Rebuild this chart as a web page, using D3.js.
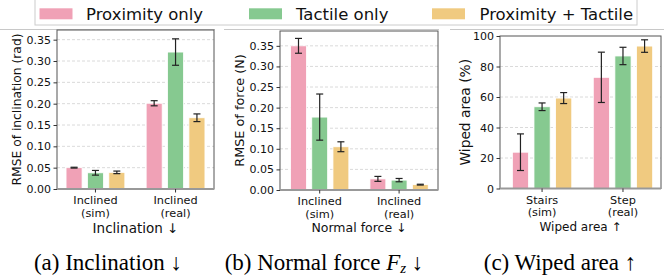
<!DOCTYPE html>
<html>
<head>
<meta charset="utf-8">
<script src="https://cdn.jsdelivr.net/npm/d3@7"></script>
<style>
  body { margin: 0; background: #fff; }
  svg { display: block; font-family: "DejaVu Sans", sans-serif; }
</style>
</head>
<body>
<svg id="chart" width="664" height="278"></svg>
<script>
// series + colours
var seriesNames = ["Proximity only", "Tactile only", "Proximity + Tactile"];
var seriesColors = ["#f0a1b6", "#86c990", "#f0ca80"];

// (a) inclination
var incCats = [["Inclined", "(sim)"], ["Inclined", "(real)"]];
var incMean = [[0.050, 0.038, 0.039], [0.201, 0.321, 0.167]];
var incErr = [[0.001, 0.0055, 0.003], [0.006, 0.031, 0.009]];
var incTicks = [0, 0.05, 0.10, 0.15, 0.20, 0.25, 0.30, 0.35];

// (b) normal force
var forceCats = [["Inclined", "(sim)"], ["Inclined", "(real)"]];
var forceMean = [[0.350, 0.177, 0.105], [0.027, 0.024, 0.013]];
var forceErr = [[0.018, 0.056, 0.012], [0.006, 0.004, 0.001]];
var forceTicks = [0, 0.05, 0.10, 0.15, 0.20, 0.25, 0.30, 0.35];

// (c) wiped area
var wipeCats = [["Stairs", "(sim)"], ["Step", "(real)"]];
var wipeMean = [[23.8, 53.6, 59.3], [72.9, 86.9, 93.4]];
var wipeErr = [[12.0, 2.5, 3.6], [16.5, 5.7, 4.1]];
var wipeTicks = [0, 20, 40, 60, 80, 100];

var svg = d3.select("#chart");

var panels = [
  { cats: incCats, mean: incMean, err: incErr, ticks: incTicks, fmt: d3.format(".2f"),
    ymax: 0.3727, xdom: [-0.48, 1.48], left: 57, right: 214, top: 30, bottom: 189,
    ylabel: "RMSE of inclination (rad)", ylx: 17, ylsize: 12.3,
    xlabel: "Inclination  \u2193", xlsize: 13.5, xly: 233,
    capx: 108 },
  { cats: forceCats, mean: forceMean, err: forceErr, ticks: forceTicks, fmt: d3.format(".2f"),
    ymax: 0.386, xdom: [-0.5, 1.49], left: 280, right: 438, top: 31, bottom: 190,
    ylabel: "RMSE of force (N)", ylx: 240, ylsize: 12.8,
    xlabel: "Normal force  \u2193", xlsize: 12.5, xly: 232,
    capx: 324 },
  { cats: wipeCats, mean: wipeMean, err: wipeErr, ticks: wipeTicks, fmt: d3.format("d"),
    ymax: 100, xdom: [-0.52, 1.47], left: 500, right: 661, top: 36, bottom: 188.5,
    ylabel: "Wiped area (%)", ylx: 465, ylsize: 13.8,
    xlabel: "Wiped area  \u2191", xlsize: 12, xly: 231,
    capx: 560 }
];

var barOff = 0.267, barW = 0.2;

// subfigure top edges
[[0, 215], [224, 439], [450, 664]].forEach(function (s) {
  svg.append("line").attr("x1", s[0]).attr("x2", s[1]).attr("y1", 29.5).attr("y2", 29.5)
    .attr("stroke", "#c8c8c8").attr("stroke-width", 1);
});

panels.forEach(function (p) {
  var x = d3.scaleLinear().domain(p.xdom).range([p.left, p.right]);
  var y = d3.scaleLinear().domain([0, p.ymax]).range([p.bottom, p.top]);
  var g = svg.append("g");

  // grid
  g.selectAll(".grid").data(p.ticks.filter(function (t) { return t > 0 && y(t) > p.top + 1; }))
    .enter().append("line")
    .attr("x1", p.left).attr("x2", p.right)
    .attr("y1", function (d) { return y(d); }).attr("y2", function (d) { return y(d); })
    .attr("stroke", "#d0d0d0").attr("stroke-width", 0.8).attr("stroke-dasharray", "3,2");

  // bars
  var rows = [];
  p.mean.forEach(function (grp, gi) {
    grp.forEach(function (v, si) {
      rows.push({ g: gi, s: si, v: v, e: p.err[gi][si] });
    });
  });
  var bw = x(barW) - x(0);
  g.selectAll(".bar").data(rows).enter().append("rect")
    .attr("x", function (d) { return x(d.g + (d.s - 1) * barOff) - bw / 2; })
    .attr("width", bw)
    .attr("y", function (d) { return y(d.v); })
    .attr("height", function (d) { return y(0) - y(d.v); })
    .attr("fill", function (d) { return seriesColors[d.s]; })
    .attr("stroke", "#fff").attr("stroke-width", 0.8);

  // error bars
  rows.forEach(function (d) {
    var cx = x(d.g + (d.s - 1) * barOff);
    var y1 = y(d.v + d.e), y2 = y(d.v - d.e);
    g.append("line").attr("x1", cx).attr("x2", cx).attr("y1", y1).attr("y2", y2)
      .attr("stroke", "#222").attr("stroke-width", 1.2);
    [y1, y2].forEach(function (yy) {
      g.append("line").attr("x1", cx - 3.5).attr("x2", cx + 3.5).attr("y1", yy).attr("y2", yy)
        .attr("stroke", "#222").attr("stroke-width", 1.2);
    });
  });

  // frame
  g.append("rect").attr("x", p.left).attr("y", p.top)
    .attr("width", p.right - p.left).attr("height", p.bottom - p.top)
    .attr("fill", "none").attr("stroke", "#555").attr("stroke-width", 1);
  g.append("line").attr("x1", p.left).attr("x2", p.right).attr("y1", p.bottom).attr("y2", p.bottom)
    .attr("stroke", "#999").attr("stroke-width", 2);

  // y axis
  var yAxis = g.append("g").attr("transform", "translate(" + p.left + ",0)")
    .call(d3.axisLeft(y).tickValues(p.ticks).tickFormat(p.fmt).tickSize(3.5).tickPadding(2.5));
  yAxis.select(".domain").remove();
  yAxis.selectAll("line").attr("stroke", "#333");
  yAxis.selectAll("text").attr("font-size", 11).attr("fill", "#111")
    .attr("font-family", "DejaVu Sans");

  // x ticks + labels
  p.cats.forEach(function (c, i) {
    var cx = x(i);
    g.append("line").attr("x1", cx).attr("x2", cx).attr("y1", p.bottom).attr("y2", p.bottom + 3.5)
      .attr("stroke", "#333");
    var t = g.append("text").attr("x", cx).attr("y", p.bottom + 15)
      .attr("text-anchor", "middle").attr("font-size", 11.3).attr("fill", "#111");
    t.append("tspan").attr("x", cx).text(c[0]);
    t.append("tspan").attr("x", cx).attr("dy", 12.6).text(c[1]);
  });

  g.append("text").attr("x", (p.left + p.right) / 2).attr("y", p.xly)
    .attr("text-anchor", "middle").attr("font-size", p.xlsize).attr("fill", "#111")
    .text(p.xlabel);

  g.append("text")
    .attr("transform", "translate(" + p.ylx + "," + ((p.top + p.bottom) / 2) + ") rotate(-90)")
    .attr("text-anchor", "middle").attr("dy", "0.35em")
    .attr("font-size", p.ylsize).attr("fill", "#111").text(p.ylabel);
});

// captions
var capFont = "'Liberation Serif', 'Times New Roman', serif";
var capSize = 23;
svg.append("text").attr("x", panels[0].capx).attr("y", 270).attr("text-anchor", "middle")
  .attr("font-family", capFont).attr("font-size", capSize).text("(a) Inclination \u2193");
var cb = svg.append("text").attr("x", panels[1].capx).attr("y", 270).attr("text-anchor", "middle")
  .attr("font-family", capFont).attr("font-size", capSize);
cb.append("tspan").text("(b) Normal force ");
cb.append("tspan").attr("font-style", "italic").text("F");
cb.append("tspan").attr("font-style", "italic").attr("font-size", 15).attr("dy", 3).text("z");
cb.append("tspan").attr("dy", -3).text(" \u2193");
svg.append("text").attr("x", panels[2].capx).attr("y", 270).attr("text-anchor", "middle")
  .attr("font-family", capFont).attr("font-size", capSize).text("(c) Wiped area \u2191");

// legend
var leg = svg.append("g");
leg.append("rect").attr("x", 35).attr("y", -5).attr("width", 602).attr("height", 30)
  .attr("fill", "#fff").attr("stroke", "#ccc").attr("stroke-width", 1);
var legPatchX = [39.5, 249, 432];
var legTextX = [86, 296, 479.5];
seriesNames.forEach(function (n, i) {
  leg.append("rect").attr("x", legPatchX[i]).attr("y", 8.3).attr("width", 33).attr("height", 11)
    .attr("fill", seriesColors[i]);
  leg.append("text").attr("x", legTextX[i]).attr("y", 19.5).attr("font-size", 16.5)
    .attr("fill", "#111").text(n);
});
</script>
</body>
</html>
